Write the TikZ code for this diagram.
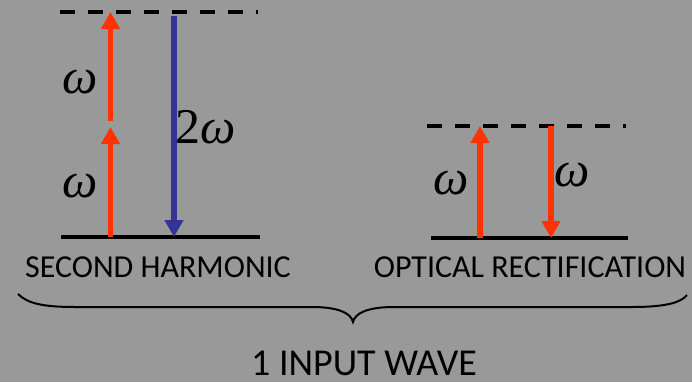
\documentclass[tikz,border=0pt]{standalone}
\usepackage{fontspec}
\setmainfont{Carlito}
\newfontfamily\symbfont{Liberation Serif}
\usetikzlibrary{arrows.meta}
\definecolor{bggray}{RGB}{153,153,153}
\definecolor{pumpred}{RGB}{255,51,0}
\definecolor{shgblue}{RGB}{51,51,153}

\begin{document}
\begin{tikzpicture}[
  x=0.5pt,
  y=-0.5pt,
  level/.style={line width=1.6pt},
  virtual/.style={line width=1.6pt, dash pattern=on 7.5pt off 6.5pt},
  photon/.style={line width=2.6pt, draw=#1, -{Triangle[width=9pt,length=8.5pt]}},
  freq/.style={font=\symbfont\itshape\fontsize{25}{25}\selectfont, inner sep=0pt},
  caption/.style={font=\fontsize{16}{16}\selectfont, inner sep=0pt, anchor=base},
  bigcaption/.style={font=\fontsize{19}{19}\selectfont, inner sep=0pt, anchor=base}
]
\fill[bggray] (0,0) rectangle (692,382);
\useasboundingbox (0,0) rectangle (692,382);

% second harmonic levels
\coordinate (shgVirtL) at (60,12);
\coordinate (shgVirtR) at (258,12);
\coordinate (shgGndL) at (61,237);
\coordinate (shgGndR) at (260,237);
\coordinate (shgMid) at (110.5,124);
\coordinate (shgUpA) at (110.5,237);
\coordinate (shgUpB) at (110.5,12);
\coordinate (shgDownA) at (174,16);
\coordinate (shgDownB) at (174,237);

% optical rectification levels
\coordinate (orVirtL) at (427,126);
\coordinate (orVirtR) at (626,126);
\coordinate (orGndL) at (431,238);
\coordinate (orGndR) at (628,238);
\coordinate (orUpA) at (480,238);
\coordinate (orUpB) at (480,126);
\coordinate (orDownA) at (551,126);
\coordinate (orDownB) at (551,238);

\draw[virtual] (shgVirtL) -- (shgVirtR);
\draw[level] (shgGndL) -- (shgGndR);
\draw[virtual] (orVirtL) -- (orVirtR);
\draw[level] (orGndL) -- (orGndR);

\draw[photon=pumpred] (shgUpA) -- ([yshift=-1.5]shgMid);
\draw[photon=pumpred] ([yshift=1.5]shgMid) -- (shgUpB);
\draw[photon=shgblue] (shgDownA) -- (shgDownB);
\draw[photon=pumpred] (orUpA) -- (orUpB);
\draw[photon=pumpred] (orDownA) -- (orDownB);

\node[freq] (wUpper) at (80,82) {ω};
\node[freq] (wLower) at (80,186) {ω};
\node[freq] (wDouble) at (206,127) {{\upshape 2}ω};
\node[freq] (wAbs) at (451,183) {ω};
\node[freq] (wEmit) at (572,175) {ω};

\node[caption] (shgText) at (158,277) {SECOND HARMONIC};
\node[caption] (orText) at (530,277) {OPTICAL RECTIFICATION};

% brace
\coordinate (braceL) at (18,294);
\coordinate (braceTip) at (353,322);
\coordinate (braceR) at (687,295);
\draw[line width=1pt] (braceL) .. controls (28,304) and (45,307) .. (75,307)
  -- (312,307) .. controls (338,307) and (351,313) .. (braceTip)
  .. controls (355,313) and (368,307) .. (394,307)
  -- (632,307) .. controls (660,307) and (680,304) .. (braceR);

\node[bigcaption] (inputText) at (364,375) {1 INPUT WAVE};
\end{tikzpicture}
\end{document}
